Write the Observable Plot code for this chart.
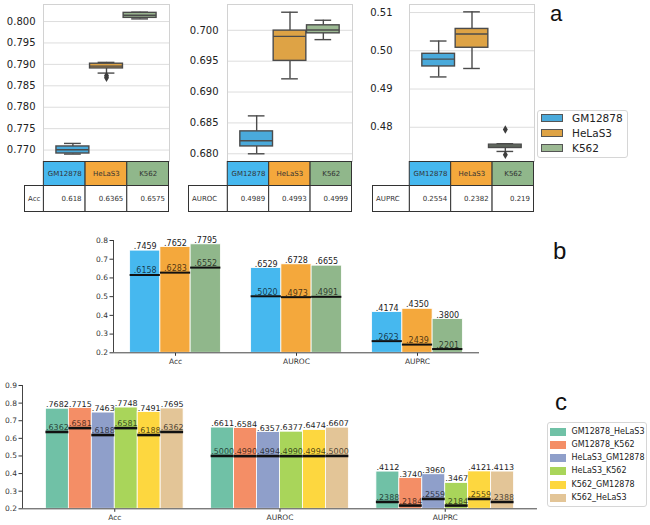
<!DOCTYPE html>
<html><head><meta charset="utf-8">
<script src="https://cdn.jsdelivr.net/npm/d3@7"></script>
<script src="https://cdn.jsdelivr.net/npm/@observablehq/plot@0.6"></script>
<style>
html,body{margin:0;padding:0;background:#fff;}
#root{position:relative;width:650px;height:525px;font-family:"DejaVu Sans",sans-serif;overflow:hidden;background:#fff;}
#root svg{position:absolute;overflow:visible;background:transparent;}
.lg{position:absolute;border:1px solid #d6d6d6;border-radius:3px;background:#fff;box-sizing:border-box;}
.row{position:absolute;white-space:nowrap;color:#222;}
.sw{position:absolute;box-sizing:border-box;}
.plab{position:absolute;font-family:"Liberation Sans",Arial,sans-serif;color:#111;}
</style></head><body><div id="root"></div>
<script>
// ---------- DATA ----------
const cells = ["GM12878", "HeLaS3", "K562"];
const metrics = ["Acc", "AUROC", "AUPRC"];
const cellColors = ["#46b8ef", "#f4a83c", "#90b78b"];
const boxColors = ["#4aaadb", "#dea345", "#9cb993"];

// box stats per cell: [lower whisker, q1, median, q3, upper whisker]
const accBoxes = [[0.76906, 0.7692, 0.77007, 0.77084, 0.77155], [0.78797, 0.78906, 0.7896, 0.79016, 0.79047], [0.80062, 0.80086, 0.80148, 0.80203, 0.80219]];
const accOutliers = [[], [0.78737, 0.7869], []];
const aurocBoxes = [[0.6800, 0.68119, 0.68212, 0.68363, 0.68614], [0.69214, 0.69505, 0.69902, 0.69995, 0.70293], [0.69849, 0.69951, 0.70005, 0.70081, 0.70163]];
const aurocOutliers = [[], [], []];
const auprcBoxes = [[0.49316, 0.4959, 0.49782, 0.49921, 0.50255], [0.49537, 0.50079, 0.50439, 0.50571, 0.51018], [0.47368, 0.47458, 0.4751, 0.47545, 0.47571]];
const auprcOutliers = [[], [], [0.4794, 0.47282]];

const accTicks = [0.770, 0.775, 0.780, 0.785, 0.790, 0.795, 0.800];
const aurocTicks = [0.680, 0.685, 0.690, 0.695, 0.700];
const auprcTicks = [0.48, 0.49, 0.50, 0.51];

const tableAcc = [0.618, 0.6365, 0.6575];
const tableAuroc = [0.4989, 0.4993, 0.4999];
const tableAuprc = [0.2554, 0.2382, 0.219];

// panel b
const bTopGM12878 = [0.7459, 0.6529, 0.4174];
const bTopHeLaS3 = [0.7652, 0.6728, 0.4350];
const bTopK562 = [0.7795, 0.6655, 0.3800];
const bLineGM12878 = [0.6158, 0.5020, 0.2623];
const bLineHeLaS3 = [0.6283, 0.4973, 0.2439];
const bLineK562 = [0.6552, 0.4991, 0.2201];
const bTicks = [0.2, 0.3, 0.4, 0.5, 0.6, 0.7, 0.8];

// panel c
const pairs = ["GM12878_HeLaS3", "GM12878_K562", "HeLaS3_GM12878", "HeLaS3_K562", "K562_GM12878", "K562_HeLaS3"];
const pairColors = ["#70c1a6", "#f48e66", "#8f9fca", "#a9d55a", "#fdd73f", "#e3c597"];
const cTopAcc = [0.7682, 0.7715, 0.7463, 0.7748, 0.7491, 0.7695];
const cTopAuroc = [0.6611, 0.6584, 0.6357, 0.6377, 0.6474, 0.6607];
const cTopAuprc = [0.4112, 0.3740, 0.3960, 0.3467, 0.4121, 0.4113];
const cLineAcc = [0.6362, 0.6581, 0.6188, 0.6581, 0.6188, 0.6362];
const cLineAuroc = [0.5000, 0.4990, 0.4994, 0.4990, 0.4994, 0.5000];
const cLineAuprc = [0.2388, 0.2184, 0.2559, 0.2184, 0.2559, 0.2388];
const cTicks = [0.2, 0.3, 0.4, 0.5, 0.6, 0.7, 0.8, 0.9];

// ---------- helpers ----------
const root = document.getElementById("root");
function place(svg, left, top) {
  svg.style.left = left + "px";
  svg.style.top = top + "px";
  root.appendChild(svg);
}
const fmtBar = v => d3.format(".4f")(v).replace(/^0/, "");
const FONT = "DejaVu Sans";

// ---------- panel a ----------
function boxPanel({stats, outliers, ticks, domain, fmt, frameLeft, frameW, tickPad}) {
  const mL = 60, slot = 0.8 / 3, ink = "#4b4b4b";
  const rows = stats.map((s, i) => ({cell: cells[i], x: (i - 1) * slot, lo: s[0], q1: s[1], med: s[2], q3: s[3], hi: s[4]}));
  const fl = outliers.flatMap((o, i) => o.map(v => ({x: (i - 1) * slot, v})));
  const svg = Plot.plot({
    width: mL + frameW, height: 161,
    marginLeft: mL, marginRight: 0, marginTop: 4, marginBottom: 0,
    x: {domain: [-0.5, 0.5], axis: null},
    y: {domain, ticks, tickFormat: d3.format(fmt), tickSize: 0, tickPadding: tickPad},
    color: {domain: cells, range: boxColors},
    style: {fontSize: "10px", fontFamily: FONT, color: "#222", background: "transparent"},
    marks: [
      Plot.ruleY(ticks, {stroke: "#dddddd", strokeWidth: 1}),
      Plot.frame({stroke: "#d2d2d2"}),
      Plot.ruleX(rows, {x: "x", y1: "q3", y2: "hi", stroke: ink, strokeWidth: 1.4}),
      Plot.ruleX(rows, {x: "x", y1: "lo", y2: "q1", stroke: ink, strokeWidth: 1.4}),
      Plot.ruleY(rows, {y: "hi", x1: d => d.x - slot / 4, x2: d => d.x + slot / 4, stroke: ink, strokeWidth: 1.4}),
      Plot.ruleY(rows, {y: "lo", x1: d => d.x - slot / 4, x2: d => d.x + slot / 4, stroke: ink, strokeWidth: 1.4}),
      Plot.rect(rows, {x1: d => d.x - slot * 0.49, x2: d => d.x + slot * 0.49, y1: "q1", y2: "q3", fill: "cell", stroke: ink, strokeWidth: 1.4}),
      Plot.ruleY(rows, {y: "med", x1: d => d.x - slot * 0.49, x2: d => d.x + slot * 0.49, stroke: ink, strokeWidth: 1.4}),
      Plot.dot(fl, {x: "x", y: "v", symbol: "diamond", r: 2.6, fill: "#3d3d3d", stroke: "none"})
    ]
  });
  place(svg, frameLeft - mL, 0);
}

function tablePanel({metric, values, frameLeft, frameW, labelW}) {
  const cellW = frameW / 3, lf = labelW / cellW, width = labelW + frameW;
  const idx = cells.map((c, i) => i);
  const svg = Plot.plot({
    width, height: 51, margin: 0,
    x: {domain: [-lf, 3], range: [0.5, width - 0.5], axis: null},
    y: {domain: [0, 2], range: [0.5, 50.5], axis: null},
    color: {domain: cells, range: cellColors},
    style: {fontSize: "7px", fontFamily: FONT, color: "#222", background: "transparent"},
    marks: [
      Plot.rect(idx, {x1: i => i, x2: i => i + 1, y1: () => 0, y2: () => 0.96, fill: i => cells[i], stroke: "#333", strokeWidth: 1}),
      Plot.rect(idx, {x1: i => i, x2: i => i + 1, y1: () => 0.96, y2: () => 2, fill: "white", stroke: "#333", strokeWidth: 1}),
      Plot.rect([metric], {x1: () => -lf, x2: () => 0, y1: () => 0.96, y2: () => 2, fill: "white", stroke: "#333", strokeWidth: 1}),
      Plot.text(idx, {x: i => i + 0.5, y: () => 0.48, text: i => cells[i], fill: "#333"}),
      Plot.text(idx, {x: i => i + 1, y: () => 1.48, text: i => String(values[i]), textAnchor: "end", dx: -4, fill: "#333"}),
      Plot.text([metric], {x: () => -lf, y: () => 1.48, text: d => d, textAnchor: "start", dx: 3, fill: "#333"})
    ]
  });
  place(svg, frameLeft - labelW, 161);
}

boxPanel({stats: accBoxes, outliers: accOutliers, ticks: accTicks, domain: [0.76733, 0.80398], fmt: ".3f", frameLeft: 43, frameW: 126, tickPad: 8});
boxPanel({stats: aurocBoxes, outliers: aurocOutliers, ticks: aurocTicks, domain: [0.67875, 0.70418], fmt: ".3f", frameLeft: 227, frameW: 125, tickPad: 9});
boxPanel({stats: auprcBoxes, outliers: auprcOutliers, ticks: auprcTicks, domain: [0.47105, 0.5121], fmt: ".2f", frameLeft: 409, frameW: 125, tickPad: 17});
tablePanel({metric: "Acc", values: tableAcc, frameLeft: 43, frameW: 126, labelW: 19});
tablePanel({metric: "AUROC", values: tableAuroc, frameLeft: 227, frameW: 125, labelW: 39});
tablePanel({metric: "AUPRC", values: tableAuprc, frameLeft: 409, frameW: 125, labelW: 37});

// legend a
(function () {
  const lg = document.createElement("div");
  lg.className = "lg";
  Object.assign(lg.style, {left: "537px", top: "110px", width: "91px", height: "48px"});
  root.appendChild(lg);
  cells.forEach((c, i) => {
    const cy = 117.7 + i * 15.3;
    const sw = document.createElement("div");
    sw.className = "sw";
    Object.assign(sw.style, {left: "541px", top: (cy - 4) + "px", width: "22px", height: "8px", background: boxColors[i], border: "1px solid #555"});
    root.appendChild(sw);
    const t = document.createElement("div");
    t.className = "row";
    t.textContent = c;
    Object.assign(t.style, {left: "572px", top: (cy - 7) + "px", fontSize: "10.5px", lineHeight: "14px"});
    root.appendChild(t);
  });
})();

// ---------- panel b ----------
(function () {
  const tops = [bTopGM12878, bTopHeLaS3, bTopK562];
  const lines = [bLineGM12878, bLineHeLaS3, bLineK562];
  const bw = 0.25;
  const data = metrics.flatMap((m, mi) => cells.map((c, ci) => ({
    cell: c, x1: mi + (ci - 1) * bw - bw / 2, x2: mi + (ci - 1) * bw + bw / 2, xc: mi + (ci - 1) * bw,
    top: tops[ci][mi], line: lines[ci][mi]
  })));
  const xDom = [-0.5125, 2.5125], yDom = [0.2, 0.8];
  const svg = Plot.plot({
    width: 480, height: 150, marginLeft: 113, marginRight: 1, marginTop: 15, marginBottom: 22.7,
    x: {domain: xDom, ticks: [0, 1, 2], tickFormat: i => metrics[i], tickSize: 3.5, tickPadding: 2},
    y: {domain: yDom, ticks: bTicks, tickFormat: d3.format(".1f"), tickSize: 3.5, tickPadding: 2},
    color: {domain: cells, range: cellColors},
    style: {fontSize: "7.5px", fontFamily: FONT, color: "#333", background: "transparent"},
    marks: [
      Plot.rectY(data, {x1: "x1", x2: "x2", y1: () => yDom[0], y2: "top", fill: "cell", stroke: "white", strokeWidth: 0.8}),
      Plot.ruleY(data, {y: "line", x1: "x1", x2: "x2", stroke: "#111", strokeWidth: 2}),
      Plot.text(data, {x: "xc", y: "top", text: d => fmtBar(d.top), dy: -1.5, lineAnchor: "bottom", fontSize: 8, fill: "#222"}),
      Plot.text(data, {x: "xc", y: "line", text: d => fmtBar(d.line), dy: -1.5, lineAnchor: "bottom", fontSize: 8, fill: "#000", fillOpacity: 0.7}),
      Plot.ruleX([xDom[0]], {stroke: "#444", strokeWidth: 1}),
      Plot.ruleY([yDom[0]], {stroke: "#444", strokeWidth: 1})
    ]
  });
  place(svg, 0, 225);
})();

// ---------- panel c ----------
(function () {
  const tops = [cTopAcc, cTopAuroc, cTopAuprc];
  const lines = [cLineAcc, cLineAuroc, cLineAuprc];
  const bw = 0.8333 / 6;
  const data = metrics.flatMap((m, mi) => pairs.map((p, pi) => ({
    pair: p, x1: mi + (pi - 3) * bw, x2: mi + (pi - 2) * bw, xc: mi + (pi - 2.5) * bw,
    top: tops[mi][pi], line: lines[mi][pi]
  })));
  const xDom = [-0.5583, 2.5583], yDom = [0.2, 0.9];
  const svg = Plot.plot({
    width: 537, height: 148.3, marginLeft: 22, marginRight: 0, marginTop: 10, marginBottom: 15,
    x: {domain: xDom, ticks: [0, 1, 2], tickFormat: i => metrics[i], tickSize: 3.5, tickPadding: 2},
    y: {domain: yDom, ticks: cTicks, tickFormat: d3.format(".1f"), tickSize: 3.5, tickPadding: 2},
    color: {domain: pairs, range: pairColors},
    style: {fontSize: "7.5px", fontFamily: FONT, color: "#333", background: "transparent"},
    marks: [
      Plot.rectY(data, {x1: "x1", x2: "x2", y1: () => yDom[0], y2: "top", fill: "pair", stroke: "white", strokeWidth: 0.8}),
      Plot.ruleY(data, {y: "line", x1: "x1", x2: "x2", stroke: "#111", strokeWidth: 2.6}),
      Plot.text(data, {x: "xc", y: "top", text: d => fmtBar(d.top), dy: -1.5, lineAnchor: "bottom", fontSize: 8, fill: "#222"}),
      Plot.text(data, {x: "xc", y: "line", text: d => fmtBar(d.line), dy: -1.8, lineAnchor: "bottom", fontSize: 8, fill: "#000", fillOpacity: 0.7}),
      Plot.ruleX([xDom[0]], {stroke: "#444", strokeWidth: 1}),
      Plot.ruleY([yDom[0]], {stroke: "#444", strokeWidth: 1})
    ]
  });
  place(svg, 0, 375);
})();

// legend c
(function () {
  const lg = document.createElement("div");
  lg.className = "lg";
  Object.assign(lg.style, {left: "547px", top: "422px", width: "100px", height: "85px"});
  root.appendChild(lg);
  pairs.forEach((p, i) => {
    const cy = 431.7 + i * 13.2;
    const sw = document.createElement("div");
    sw.className = "sw";
    Object.assign(sw.style, {left: "550px", top: (cy - 4) + "px", width: "16px", height: "8px", background: pairColors[i]});
    root.appendChild(sw);
    const t = document.createElement("div");
    t.className = "row";
    t.textContent = p;
    Object.assign(t.style, {left: "571.5px", top: (cy - 6) + "px", fontSize: "8px", lineHeight: "12px"});
    root.appendChild(t);
  });
})();

// panel letters: [text, left, top, font size, line height]
[["a", 550, 1, 22, 25], ["b", 553, 237, 24, 27], ["c", 555, 388, 24, 27]].forEach(([s, x, y, fs, lh]) => {
  const d = document.createElement("div");
  d.className = "plab";
  d.textContent = s;
  Object.assign(d.style, {left: x + "px", top: y + "px", fontSize: fs + "px", lineHeight: lh + "px"});
  root.appendChild(d);
});
</script>
</body></html>
